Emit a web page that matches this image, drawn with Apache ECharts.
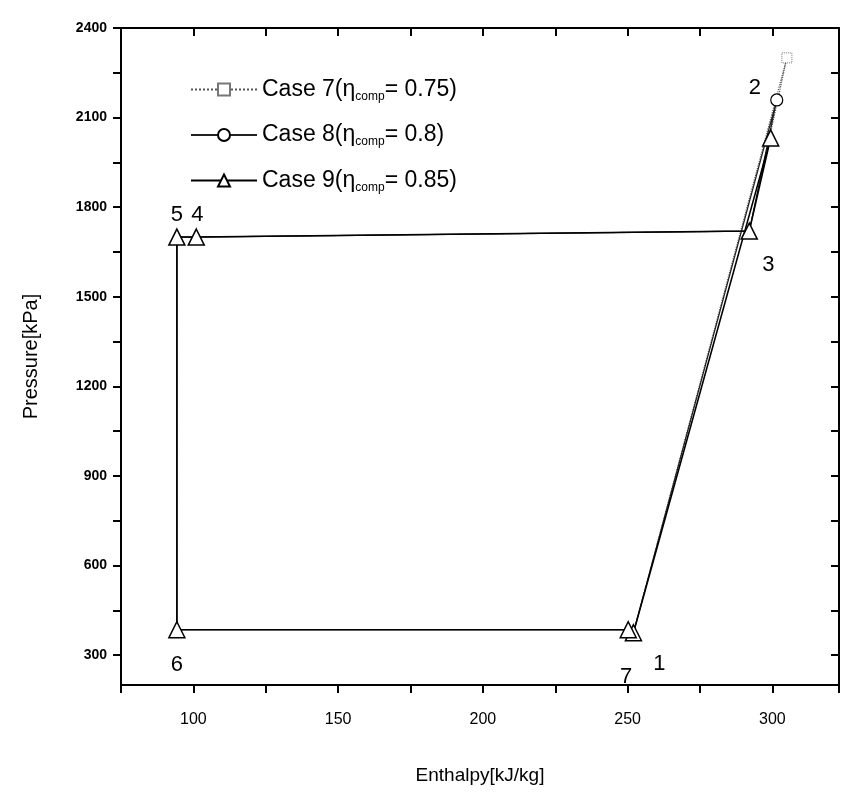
<!DOCTYPE html>
<html>
<head>
<meta charset="utf-8">
<script src="https://cdn.jsdelivr.net/npm/echarts@6/dist/echarts.min.js"></script>
<style>
  html, body { margin: 0; padding: 0; background: #fff; }
  #chart { width: 842px; height: 792px; }
</style>
</head>
<body>
<div id="chart"></div>
<script>
// state points of the cycle, in order 1..7
var pointNames = ['1', '2', '3', '4', '5', '6', '7'];
var caseNames = ['Case 7', 'Case 8', 'Case 9'];
var etaValues = ['0.75', '0.8', '0.85'];

var case7H = [252, 305, 292, 101, 94.3, 94.3, 250.2];
var case7P = [375, 2300, 1720, 1700, 1700, 385, 385];
var case8H = [252, 301.5, 292, 101, 94.3, 94.3, 250.2];
var case8P = [375, 2159, 1720, 1700, 1700, 385, 385];
var case9H = [252, 299.4, 292, 101, 94.3, 94.3, 250.2];
var case9P = [375, 2032, 1720, 1700, 1700, 385, 385];

var yLabelValues = [300, 600, 900, 1200, 1500, 1800, 2100, 2400];
var yTickValues = [300, 450, 600, 750, 900, 1050, 1200, 1350, 1500, 1650, 1800, 1950, 2100, 2250, 2400];

var myChart = echarts.init(document.getElementById('chart'));

// label offsets for the state point numbers
var labelOffsets = {
    '1': [26, 31],
    '3': [19, 34],
    '4': [1, -22],
    '5': [0, -22],
    '6': [0, 35],
    '7': [-2, 47]
};

function buildData(hs, ps, showLabels, onlyPoint2) {
    var out = [];
    for (var i = 0; i < hs.length; i++) {
        var item = { value: [hs[i], ps[i]] };
        var nm = pointNames[i];
        if (onlyPoint2 && nm !== '2') {
            item.symbolSize = 0;
        }
        if (showLabels && labelOffsets[nm]) {
            item.label = {
                show: true,
                formatter: nm,
                position: 'inside',
                offset: labelOffsets[nm],
                fontSize: 22,
                color: '#000',
                fontFamily: 'Liberation Sans'
            };
        }
        out.push(item);
    }
    // close the cycle back to point 1
    out.push({ value: [hs[0], ps[0]], symbolSize: 0 });
    return out;
}

var case8Data = buildData(case8H, case8P, false, true);
case8Data[1].label = {
    show: true, formatter: '2', position: 'inside', offset: [-22, -12],
    fontSize: 22, color: '#000', fontFamily: 'Liberation Sans'
};

var option = {
    animation: false,
    backgroundColor: '#fff',
    grid: {
        left: 121,
        top: 28,
        right: 2,
        bottom: 107,
        containLabel: false
    },
    legend: {
        show: true,
        orient: 'vertical',
        left: 185,
        top: 73,
        itemWidth: 66,
        itemHeight: 15,
        itemGap: 21,
        data: caseNames,
        formatter: function (name) {
            var eta = etaValues[caseNames.indexOf(name)];
            return '{t|' + name + '(\u03b7}{s|comp}{t|= ' + eta + ')}';
        },
        textStyle: {
            color: '#000',
            fontFamily: 'Liberation Sans',
            rich: {
                t: { fontSize: 23, color: '#000', fontFamily: 'Liberation Sans' },
                s: { fontSize: 12, color: '#000', fontFamily: 'Liberation Sans', padding: [14, 0, 0, 0] }
            }
        }
    },
    xAxis: [
        {
            type: 'value',
            min: 75,
            max: 323,
            interval: 25,
            name: 'Enthalpy[kJ/kg]',
            nameLocation: 'middle',
            nameGap: 81,
            nameTextStyle: { fontSize: 19, color: '#000', fontFamily: 'Liberation Sans' },
            splitLine: { show: false },
            axisLine: { show: true, lineStyle: { color: '#000', width: 2 } },
            axisTick: { show: true, inside: false, length: 8, lineStyle: { color: '#000', width: 2 } },
            axisLabel: {
                margin: 27,
                fontSize: 16,
                color: '#000',
                fontFamily: 'Liberation Sans',
                formatter: function (v) { return (v % 50 === 0) ? String(v) : ''; }
            }
        },
        {
            type: 'value',
            position: 'top',
            min: 75,
            max: 323,
            interval: 25,
            splitLine: { show: false },
            axisLine: { show: true, lineStyle: { color: '#000', width: 2 } },
            axisTick: { show: true, inside: true, length: 8, lineStyle: { color: '#000', width: 2 } },
            axisLabel: { show: false }
        }
    ],
    yAxis: [
        {
            type: 'value',
            min: 200,
            max: 2400,
            name: 'Pressure[kPa]',
            nameLocation: 'middle',
            nameGap: 80,
            nameRotate: 90,
            nameTextStyle: { fontSize: 20, color: '#000', fontFamily: 'Liberation Sans' },
            splitLine: { show: false },
            axisLine: { show: true, lineStyle: { color: '#000', width: 2 } },
            axisTick: {
                show: true, inside: false, length: 8,
                customValues: yTickValues,
                lineStyle: { color: '#000', width: 2 }
            },
            axisLabel: {
                margin: 14,
                fontSize: 14,
                fontWeight: 'bold',
                color: '#000',
                fontFamily: 'Liberation Sans',
                customValues: yLabelValues,
                formatter: function (v) { return String(v); }
            }
        },
        {
            type: 'value',
            position: 'right',
            min: 200,
            max: 2400,
            splitLine: { show: false },
            axisLine: { show: true, lineStyle: { color: '#000', width: 2 } },
            axisTick: {
                show: true, inside: true, length: 8,
                customValues: yTickValues,
                lineStyle: { color: '#000', width: 2 }
            },
            axisLabel: { show: false }
        }
    ],
    series: [
        {
            type: 'line',
            name: 'Case 7',
            symbol: 'rect',
            symbolSize: 10,
            itemStyle: { color: '#fff', borderColor: '#777', borderWidth: 1, borderType: 'dotted' },
            lineStyle: { color: '#555', width: 1.2, type: 'dotted' },
            z: 2,
            data: buildData(case7H, case7P, false, true)
        },
        {
            type: 'line',
            name: 'Case 8',
            symbol: 'circle',
            symbolSize: 12,
            itemStyle: { color: '#fff', borderColor: '#000', borderWidth: 1.2 },
            lineStyle: { color: '#222', width: 1.2 },
            z: 3,
            data: case8Data
        },
        {
            type: 'line',
            name: 'Case 9',
            symbol: 'triangle',
            symbolSize: 16,
            itemStyle: { color: '#fff', borderColor: '#000', borderWidth: 1.5 },
            lineStyle: { color: '#000', width: 1.6 },
            z: 4,
            data: buildData(case9H, case9P, true, false)
        }
    ]
};

myChart.setOption(option);
</script>
</body>
</html>
